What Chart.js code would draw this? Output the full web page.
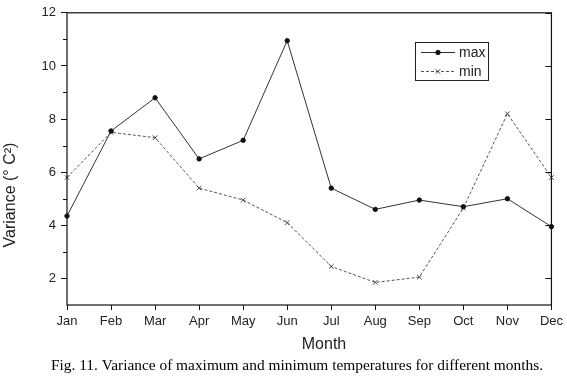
<!DOCTYPE html>
<html>
<head>
<meta charset="utf-8">
<script src="https://cdn.jsdelivr.net/npm/chart.js@4"></script>
<style>
  html, body { margin: 0; padding: 0; background: #fff; }
  #wrap { width: 567px; height: 382px; }
</style>
</head>
<body>
<div id="wrap"><canvas id="chart" width="567" height="382"></canvas></div>
<script>
const months = ['Jan', 'Feb', 'Mar', 'Apr', 'May', 'Jun', 'Jul', 'Aug', 'Sep', 'Oct', 'Nov', 'Dec'];
const maxVar = [4.35, 7.55, 8.8, 6.5, 7.2, 10.95, 5.4, 4.6, 4.95, 4.7, 5.0, 3.95];
const minVar = [5.8, 7.5, 7.3, 5.4, 4.95, 4.1, 2.45, 1.85, 2.05, 4.65, 8.2, 5.8];
const yTicks = [2, 4, 6, 8, 10, 12];
const yMinorTicks = [3, 5, 7, 9, 11];

const caption = 'Fig. 11. Variance of maximum and minimum temperatures for different months.';

// frame, extra ticks, legend box, titles and caption
const decorations = {
    id: 'decorations',
    afterDraw(chart) {
        const ctx = chart.ctx;
        const a = chart.chartArea;
        const y = chart.scales.y;
        ctx.save();
        ctx.strokeStyle = '#111';
        ctx.lineWidth = 1.2;
        ctx.strokeRect(a.left, a.top, a.right - a.left, a.bottom - a.top);

        ctx.lineWidth = 1;
        ctx.beginPath();
        yMinorTicks.forEach(v => {
            const py = Math.round(y.getPixelForValue(v)) + 0.5;
            ctx.moveTo(a.left - 4, py); ctx.lineTo(a.left, py);
        });
        yTicks.forEach(v => {
            const py = Math.round(y.getPixelForValue(v)) + 0.5;
            ctx.moveTo(a.right, py); ctx.lineTo(a.right - 6, py);
        });
        ctx.stroke();

        // legend
        const lx = 415, ly = 42, lw = 73, lh = 38;
        ctx.fillStyle = '#fff';
        ctx.fillRect(lx, ly, lw, lh);
        ctx.strokeStyle = '#222';
        ctx.strokeRect(lx + 0.5, ly + 0.5, lw, lh);
        chart.data.datasets.forEach((ds, i) => {
            const ry = ly + 10 + i * 19;
            ctx.strokeStyle = ds.borderColor;
            ctx.lineWidth = 1;
            ctx.setLineDash(ds.borderDash || []);
            ctx.beginPath();
            ctx.moveTo(lx + 6, ry + 0.5); ctx.lineTo(lx + 40, ry + 0.5);
            ctx.stroke();
            ctx.setLineDash([]);
            ctx.fillStyle = ds.pointBackgroundColor;
            ctx.strokeStyle = ds.pointBorderColor;
            Chart.helpers.drawPoint(ctx, {
                pointStyle: ds.pointStyle, radius: ds.pointRadius,
                borderWidth: 1
            }, lx + 23, ry + 0.5);
            ctx.fillStyle = '#222';
            ctx.font = '14px "Liberation Sans", Arial, sans-serif';
            ctx.textAlign = 'left';
            ctx.textBaseline = 'middle';
            ctx.fillText(ds.label, lx + 44, ry + 1);
        });

        // axis titles
        ctx.fillStyle = '#222';
        ctx.font = '16px "Liberation Sans", Arial, sans-serif';
        ctx.textAlign = 'center';
        ctx.textBaseline = 'middle';
        ctx.fillText('Month', 324, 345);
        ctx.save();
        ctx.translate(11, 195);
        ctx.rotate(-Math.PI / 2);
        ctx.fillText('Variance (\u00B0 C\u00B2)', 0, 0);
        ctx.restore();

        // caption
        ctx.fillStyle = '#000';
        ctx.font = '15.4px "Liberation Serif", "Times New Roman", serif';
        ctx.textBaseline = 'alphabetic';
        ctx.fillText(caption, 297, 370);
        ctx.restore();
    }
};

new Chart(document.getElementById('chart').getContext('2d'), {
    type: 'line',
    data: {
        labels: months,
        datasets: [
            {
                label: 'max', data: maxVar,
                borderColor: '#333', borderWidth: 1,
                pointStyle: 'circle', pointRadius: 2.2,
                pointBackgroundColor: '#111', pointBorderColor: '#111',
                tension: 0
            },
            {
                label: 'min', data: minVar,
                borderColor: '#555', borderWidth: 1, borderDash: [3, 2],
                pointStyle: 'crossRot', pointRadius: 3.2, pointBorderWidth: 1,
                pointBackgroundColor: '#444', pointBorderColor: '#444',
                tension: 0
            }
        ]
    },
    options: {
        responsive: false,
        animation: false,
        layout: { padding: { top: 9, right: 13, left: 0, bottom: 0 } },
        plugins: { legend: { display: false }, tooltip: { enabled: false } },
        scales: {
            x: {
                offset: false,
                afterFit: s => { s.height = 77; },
                grid: { display: true, drawOnChartArea: false, drawTicks: true, tickLength: 5, color: '#111' },
                border: { display: false },
                ticks: { color: '#222', padding: 4, maxRotation: 0, autoSkip: false,
                         font: { size: 13, family: '"Liberation Sans", Arial, sans-serif' } }
            },
            y: {
                min: 1, max: 12,
                afterFit: s => { s.width = 67; },
                afterBuildTicks: s => { s.ticks = yTicks.map(v => ({ value: v })); },
                grid: { display: true, drawOnChartArea: false, drawTicks: true, tickLength: 6, color: '#111' },
                border: { display: false },
                ticks: { color: '#222', padding: 5,
                         font: { size: 13, family: '"Liberation Sans", Arial, sans-serif' } }
            }
        }
    },
    plugins: [decorations]
});
</script>
</body>
</html>
